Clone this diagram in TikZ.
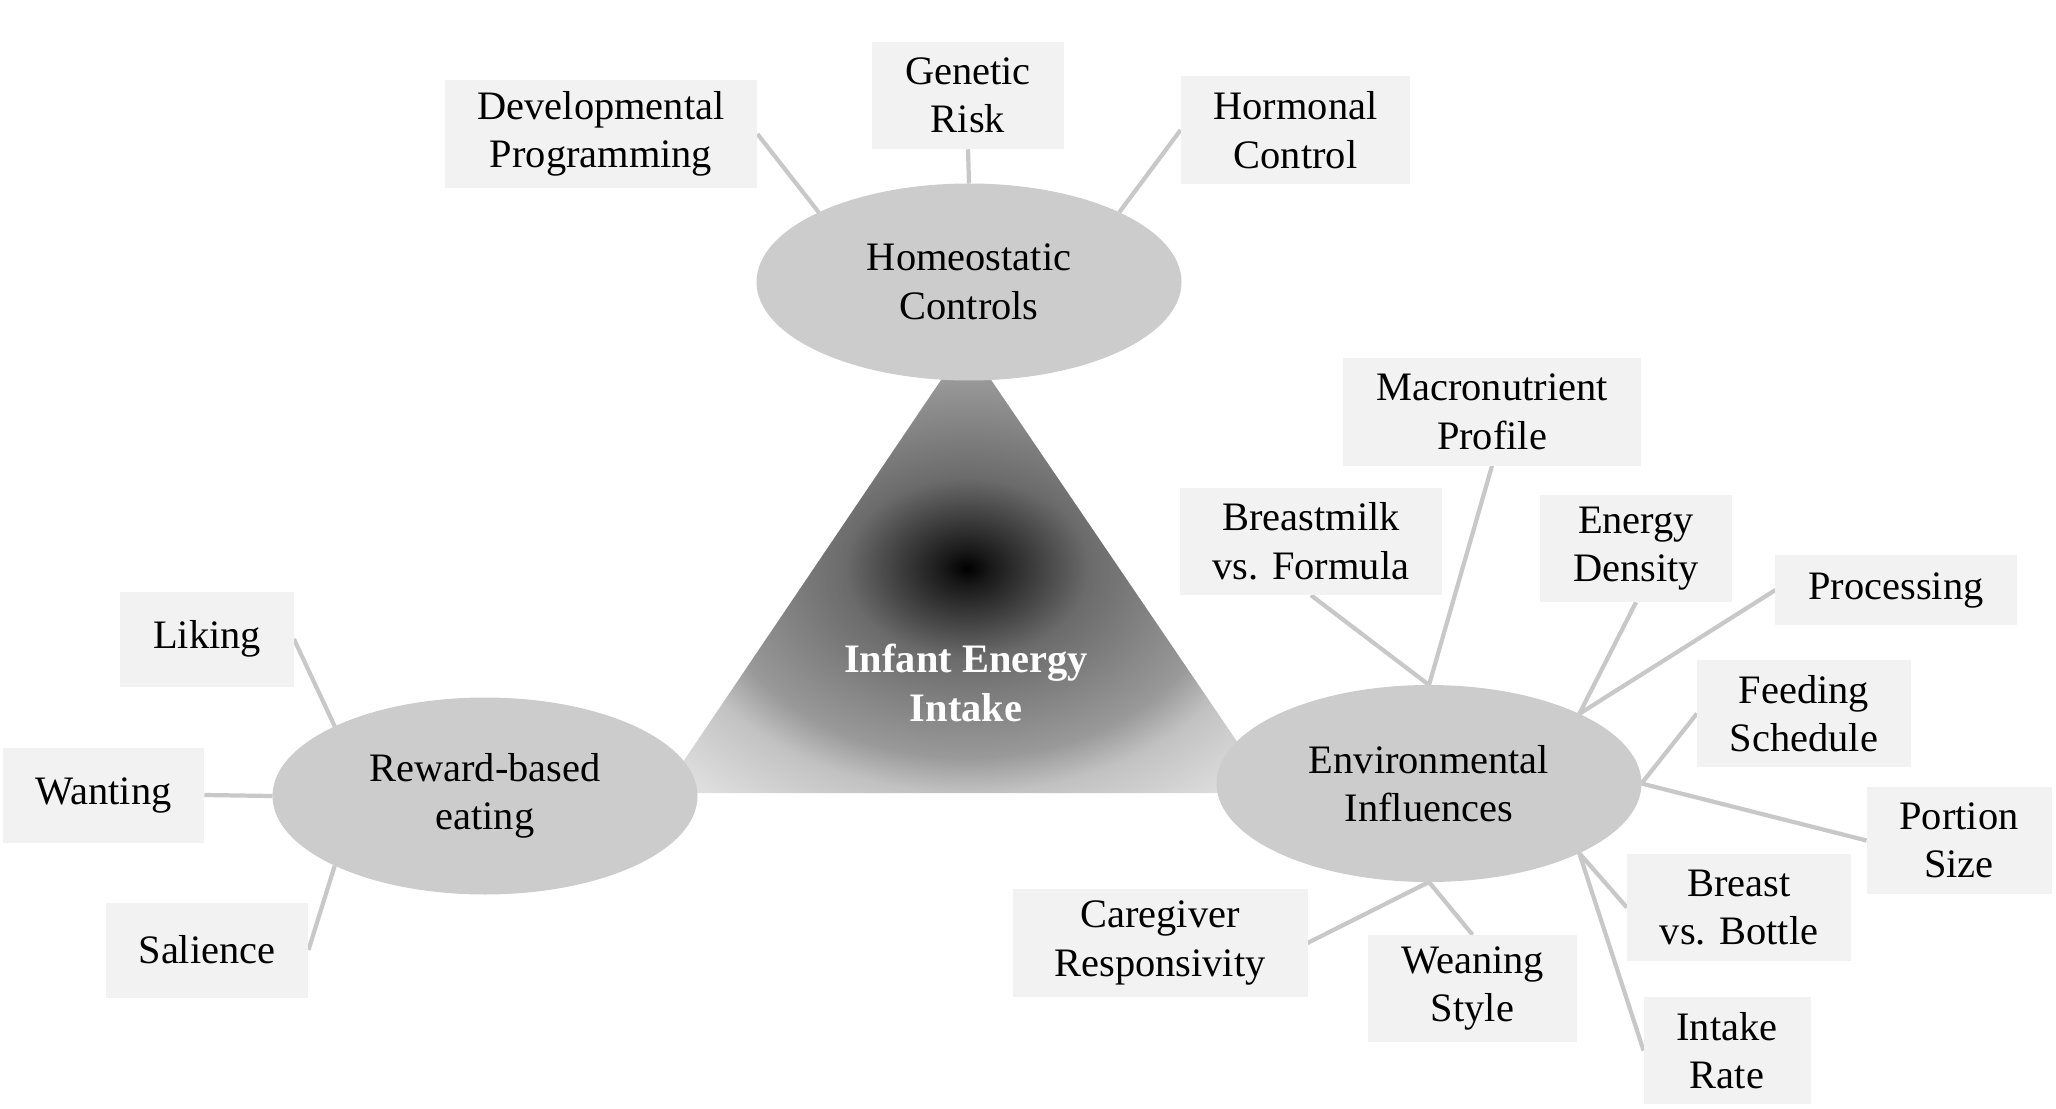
\documentclass[tikz,border=0pt]{standalone}
\usepackage{fontspec}
\setmainfont{Liberation Serif}
\usepackage{xcolor}
\usepackage{tikz}
\usetikzlibrary{shapes.geometric,backgrounds}
\definecolor{factorfill}{HTML}{F2F2F2}
\definecolor{hubfill}{HTML}{CCCCCC}
\definecolor{linkgray}{HTML}{C8C8C8}
\pgfdeclareradialshading{intakeglow}{\pgfpoint{0bp}{0bp}}{color(0bp)=(black); color(2bp)=(black!90); color(10bp)=(black!58); color(21bp)=(black!40); color(25bp)=(black!24); color(36bp)=(black!8)}

\begin{document}
\begin{tikzpicture}[
    every node/.style={font=\fontsize{11.5}{13.8}\selectfont, align=center, outer sep=0pt},
    factor/.style={rectangle, fill=factorfill, inner xsep=0.33cm, inner ysep=2pt, minimum height=1.075cm},
    hub/.style={ellipse, fill=hubfill, inner sep=0pt, minimum width=4.25cm, minimum height=1.97cm},
    link/.style={draw=linkgray, line width=1.2pt}
    ]
  \useasboundingbox (0,0) rectangle (20.56,11.08);
  \shade[shading=intakeglow] (9.66,7.65) -- (6.62,3.15) -- (12.72,3.15) -- cycle;
  \node[font=\fontsize{11.5}{13.8}\selectfont\bfseries, text=white] (core) at (9.66,4.25) {Infant Energy\\Intake};

  \node[hub] (hom) at (9.69,8.26) {Homeostatic\\Controls};
  \node[hub] (rew) at (4.85,3.12) {Reward-based\\eating};
  \node[hub] (env) at (14.29,3.245) {Environmental\\Influences};

  \node[factor] (dev) at (6.01,9.74) {Developmental\\Programming};
  \node[factor] (gen) at (9.68,10.125) {Genetic\\Risk};
  \node[factor] (horm) at (12.955,9.78) {Hormonal\\Control};

  \node[factor, minimum height=0.95cm] (lik) at (2.07,4.69) {Liking};
  \node[factor, minimum height=0.95cm] (want) at (1.035,3.13) {Wanting};
  \node[factor, minimum height=0.95cm] (sal) at (2.07,1.58) {Salience};

  \node[factor] (mac) at (14.92,6.96) {Macronutrient\\Profile};
  \node[factor] (bm) at (13.11,5.665) {Breastmilk\\vs. Formula};
  \node[factor] (ed) at (16.36,5.595) {Energy\\Density};
  \node[factor, minimum height=0.7cm] (proc) at (18.96,5.18) {Processing};
  \node[factor] (feed) at (18.04,3.945) {Feeding\\Schedule};
  \node[factor] (por) at (19.59,2.675) {Portion\\Size};
  \node[factor] (bb) at (17.39,2.005) {Breast\\vs. Bottle};
  \node[factor] (ir) at (17.27,0.575) {Intake\\Rate};
  \node[factor] (wean) at (14.725,1.195) {Weaning\\Style};
  \node[factor, minimum width=2.95cm] (care) at (11.60,1.65) {Caregiver\\Responsivity};

  \begin{scope}[on background layer]
    \foreach \ang/\target in {135/dev.east, 90/gen.south, 45/horm.west}
      \draw[link] (hom.center) ++(\ang:2.125 and 0.985) -- (\target);
    \foreach \ang/\target in {135/lik.east, 180/want.east, 225/sal.east}
      \draw[link] (rew.center) ++(\ang:2.125 and 0.985) -- (\target);
    \foreach \ang/\target in {90/mac.south, 90/bm.south, 45/ed.south, 45/proc.west, 0/feed.west,
        0/por.west, -45/bb.west, -45/ir.west, -90/wean.north, -90/care.east}
      \draw[link] (env.center) ++(\ang:2.125 and 0.985) -- (\target);
  \end{scope}
\end{tikzpicture}
\end{document}
